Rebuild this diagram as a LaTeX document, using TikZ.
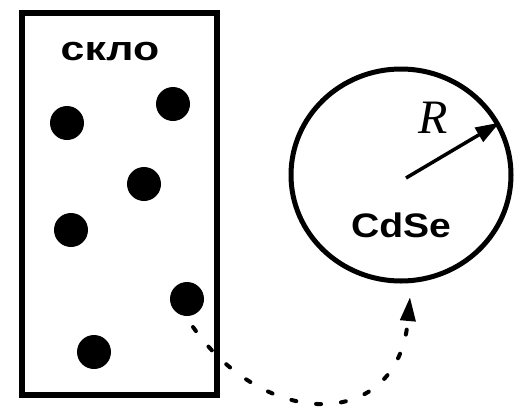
\documentclass[tikz,border=0pt]{standalone}
\usepackage{fontspec}
\setmainfont{Liberation Sans}
\newfontfamily\serifit{Liberation Serif}
\usetikzlibrary{shapes.geometric,arrows.meta}
\tikzset{
  dot/.style={circle,fill=black,minimum size=34pt,inner sep=0pt},
  lbl/.style={font=\bfseries,inner sep=0pt},
}
\begin{document}
\begin{tikzpicture}[x=1pt,y=-1pt]
\useasboundingbox (0,0) rectangle (514,410);
% glass box
\node[draw,line width=6pt,minimum width=195pt,minimum height=382pt,inner sep=0pt] (box) at (119.5,204) {};
\node[lbl,font=\fontsize{34}{36}\selectfont\bfseries] (glass) at (110,52) {\scalebox{1.26}[1]{скло}};
% dots
\node[dot] (d1) at (67,123) {};
\node[dot] (d2) at (173,104) {};
\node[dot] (d3) at (144,184) {};
\node[dot] (d4) at (71,230) {};
\node[dot] (d5) at (187,299) {};
\node[dot] (d6) at (94,352) {};
% quantum dot
\node[draw,ellipse,line width=5pt,minimum width=220pt,minimum height=212pt,inner sep=0pt] (qd) at (401,175) {};
\coordinate (c) at (406,178);
\draw[line width=3.5pt,-{Triangle[length=24pt,width=16pt]}] (c) -- (qd.28);
\node[inner sep=0pt,font=\fontsize{48}{50}\selectfont\serifit\itshape] (R) at (433,118) {R};
\node[lbl,font=\fontsize{34}{36}\selectfont\bfseries] (cdse) at (401,225) {\scalebox{1.15}[1]{CdSe}};
% dashed transfer arrow
\coordinate (s) at (193,327);
\coordinate (e) at (410,297);
\draw[line width=4pt,line cap=round,dash pattern=on 5pt off 20pt,-{Triangle[length=24pt,width=15pt]}]
  (s) .. controls (265,430) and (398,432) .. (e);
\end{tikzpicture}
\end{document}
